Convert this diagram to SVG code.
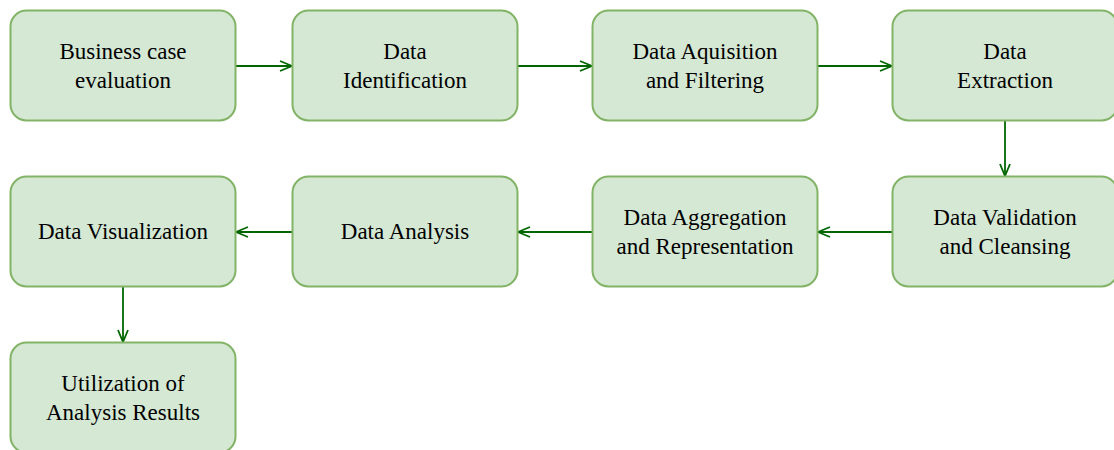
<svg xmlns="http://www.w3.org/2000/svg" width="1114" height="450" viewBox="0 0 1114 450">
  <style>
    .box { fill: #d5e8d4; stroke: #82b366; stroke-width: 2; }
    .lbl { font-family: "Liberation Serif", "Times New Roman", serif; font-size: 23px; fill: #000000; text-anchor: middle; }
    .edge { fill: none; stroke: #006600; stroke-width: 1.8; marker-end: url(#arrow); }
  </style>
  <defs>
    <marker id="arrow" viewBox="0 0 14 12" refX="13" refY="6" markerWidth="14" markerHeight="12" markerUnits="userSpaceOnUse" orient="auto">
      <path d="M1,1 L13,6 L1,11" fill="none" stroke="#006600" stroke-width="1.8"/>
    </marker>
  </defs>
  <rect width="1114" height="450" fill="#ffffff"/>

  <g id="connectors">
    <path class="edge" d="M236,66 L292,66"/>
    <path class="edge" d="M518,66 L592,66"/>
    <path class="edge" d="M818,66 L892,66"/>
    <path class="edge" d="M1005,121 L1005,176"/>
    <path class="edge" d="M893,232 L818,232"/>
    <path class="edge" d="M593,232 L518,232"/>
    <path class="edge" d="M292,232 L236,232"/>
    <path class="edge" d="M123,287 L123,342"/>
  </g>

  <g id="business-case">
    <rect class="box" x="10.5" y="10.5" width="225" height="110" rx="16"/>
    <text class="lbl" x="123" y="58.5">Business case</text>
    <text class="lbl" x="123" y="87.5">evaluation</text>
  </g>
  <g id="data-identification">
    <rect class="box" x="292.5" y="10.5" width="225" height="110" rx="16"/>
    <text class="lbl" x="405" y="58.5">Data</text>
    <text class="lbl" x="405" y="87.5">Identification</text>
  </g>
  <g id="data-acquisition">
    <rect class="box" x="592.5" y="10.5" width="225" height="110" rx="16"/>
    <text class="lbl" x="705" y="58.5">Data Aquisition</text>
    <text class="lbl" x="705" y="87.5">and Filtering</text>
  </g>
  <g id="data-extraction">
    <rect class="box" x="892.5" y="10.5" width="225" height="110" rx="16"/>
    <text class="lbl" x="1005" y="58.5">Data</text>
    <text class="lbl" x="1005" y="87.5">Extraction</text>
  </g>
  <g id="data-validation">
    <rect class="box" x="892.5" y="176.5" width="225" height="110" rx="16"/>
    <text class="lbl" x="1005" y="224.5">Data Validation</text>
    <text class="lbl" x="1005" y="253.5">and Cleansing</text>
  </g>
  <g id="data-aggregation">
    <rect class="box" x="592.5" y="176.5" width="225" height="110" rx="16"/>
    <text class="lbl" x="705" y="224.5">Data Aggregation</text>
    <text class="lbl" x="705" y="253.5">and Representation</text>
  </g>
  <g id="data-analysis">
    <rect class="box" x="292.5" y="176.5" width="225" height="110" rx="16"/>
    <text class="lbl" x="405" y="239">Data Analysis</text>
  </g>
  <g id="data-visualization">
    <rect class="box" x="10.5" y="176.5" width="225" height="110" rx="16"/>
    <text class="lbl" x="123" y="239">Data Visualization</text>
  </g>
  <g id="utilization">
    <rect class="box" x="10.5" y="342.5" width="225" height="110" rx="16"/>
    <text class="lbl" x="123" y="390.5">Utilization of</text>
    <text class="lbl" x="123" y="419.5">Analysis Results</text>
  </g>
</svg>
